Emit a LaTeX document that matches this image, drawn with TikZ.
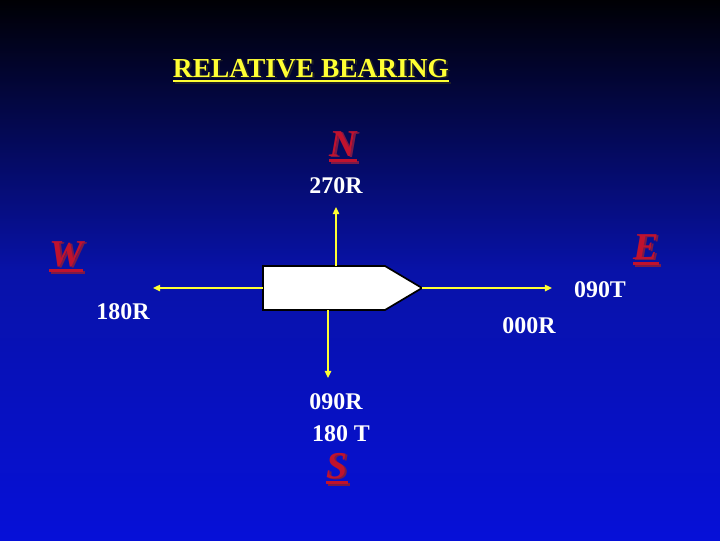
\documentclass[tikz,border=0pt]{standalone}
\usepackage{fontspec}
\setmainfont{Liberation Serif}
\usetikzlibrary{arrows.meta}
\definecolor{skytop}{HTML}{000004}
\definecolor{skymid}{HTML}{0812A8}
\definecolor{skybot}{HTML}{0610D8}
\definecolor{inkyellow}{HTML}{FFFF33}
\definecolor{inkred}{HTML}{C0122E}
\definecolor{redshade}{HTML}{7A1A48}
\definecolor{titleshade}{HTML}{202028}
% underlined text: depth, thickness, text
\newcommand{\ruled}[3]{\setbox0=\hbox{#3}\rlap{\raisebox{-#1}{\rule{\wd0}{#2}}}\box0}
\newcommand{\shadowed}[4]{\rlap{\kern1.4pt\raisebox{-1.4pt}{\color{#1}\ruled{#2}{#3}{#4}}}\ruled{#2}{#3}{#4}}
\tikzset{
  headline/.style={text=inkyellow, font=\fontsize{19.5}{22}\selectfont\bfseries, anchor=base, inner sep=0pt},
  bearing/.style={text=white, font=\fontsize{17}{19}\selectfont\bfseries, anchor=base, inner sep=0pt},
  cardinal/.style={text=inkred, font=\fontsize{27}{29}\selectfont\bfseries\itshape, anchor=base, inner sep=0pt},
  bearingline/.style={draw=inkyellow, line width=1pt, -{Triangle[length=5pt,width=4.5pt]}},
  ship/.style={fill=white, draw=black, line width=1.2pt}
}

\begin{document}
\begin{tikzpicture}[x=0.025cm, y=-0.025cm]
  \useasboundingbox (0,0) rectangle (720,540);
  \shade[top color=skytop, bottom color=skymid] (0,0) rectangle (720,271);
  \shade[top color=skymid, bottom color=skybot] (0,270) rectangle (720,540);

  \node[headline] (title) at (311,77) {\shadowed{titleshade}{3.6pt}{1.6pt}{RELATIVE BEARING}};

  % ship outline
  \draw[ship] (263,266) -- (385,266) -- (422,288) coordinate (bow)
    -- (385,310) -- (263,310) -- cycle;
  \coordinate (deck) at (336,266);
  \coordinate (keel) at (328,310);
  \coordinate (stern) at (263,288);

  \coordinate (aheadup) at (336,207);
  \coordinate (aheaddown) at (328,378);
  \coordinate (aheadleft) at (153,288);
  \coordinate (aheadright) at (552,288);

  \draw[bearingline] (deck) -- (aheadup);
  \draw[bearingline] (keel) -- (aheaddown);
  \draw[bearingline] (stern) -- (aheadleft);
  \draw[bearingline] (bow) -- (aheadright);

  \foreach \name/\lab/\x/\y in {rel270/270R/336/193, true090/090T/600/297,
      rel180/180R/123/319, rel000/000R/529/333, rel090/090R/336/409,
      true180/180 T/341/441}{%
    \node[bearing] (\name) at (\x,\y) {\lab};}

  \foreach \lab/\x/\y in {N/343/156, E/646/259, W/66/266, S/337/478}{%
    \node[cardinal] (card\lab) at (\x,\y) {\shadowed{redshade}{4.5pt}{2.2pt}{\lab}};}
\end{tikzpicture}
\end{document}
